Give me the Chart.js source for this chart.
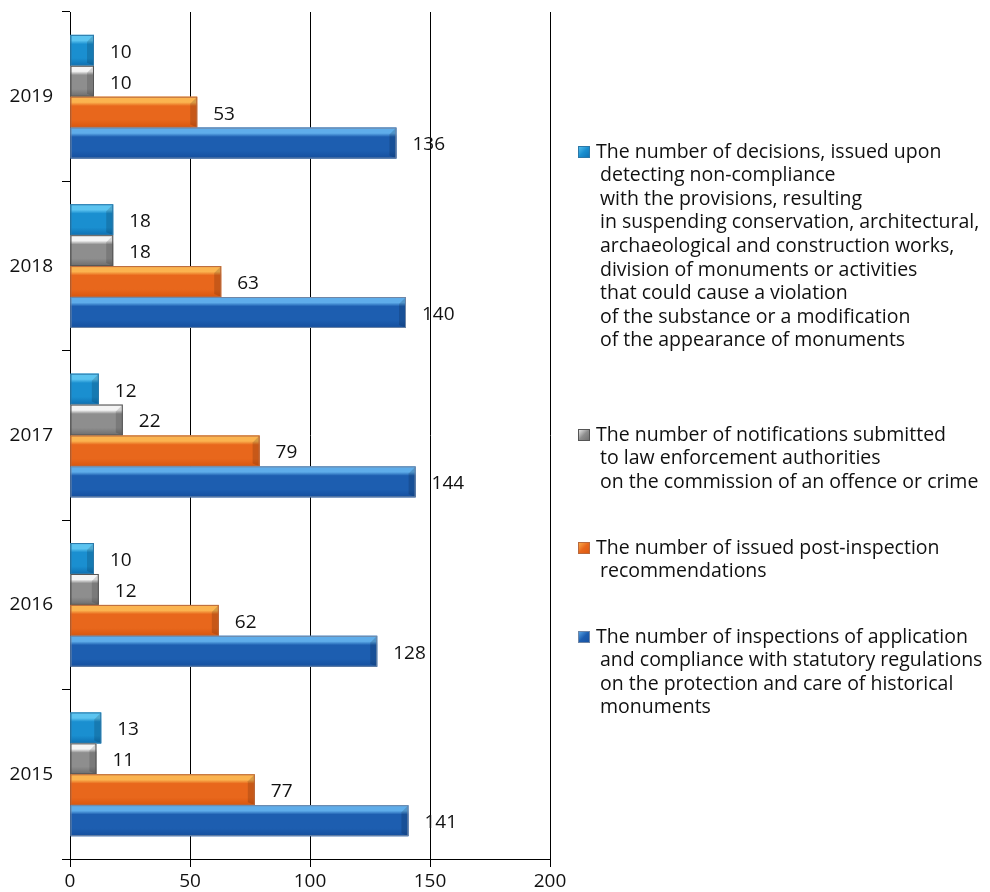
<!DOCTYPE html>
<html>
<head>
<meta charset="utf-8">
<script src="https://cdn.jsdelivr.net/npm/chart.js@4.4.0/dist/chart.umd.min.js"></script>
<style>
  html, body { margin: 0; padding: 0; background: #fff; }
  #wrap { width: 990px; height: 892px; position: relative; }
</style>
</head>
<body>
<div id="wrap"><canvas id="myChart" width="990" height="892"></canvas></div>
<script>
const years = ['2019', '2018', '2017', '2016', '2015'];
const decisions = [10, 18, 12, 10, 13];
const notifications = [10, 18, 22, 12, 11];
const recommendations = [53, 63, 79, 62, 77];
const inspections = [136, 140, 144, 128, 141];
const xTicks = [0, 50, 100, 150, 200];

const legendLines = [
    ['The number of decisions, issued upon', 'detecting non-compliance', 'with the provisions, resulting',
     'in suspending conservation, architectural,', 'archaeological and construction works,',
     'division of monuments or activities', 'that could cause a violation',
     'of the substance or a modification', 'of the appearance of monuments'],
    ['The number of notifications submitted', 'to law enforcement authorities',
     'on the commission of an offence or crime'],
    ['The number of issued post-inspection', 'recommendations'],
    ['The number of inspections of application', 'and compliance with statutory regulations',
     'on the protection and care of historical', 'monuments']
];
const legendTop = [152, 435, 548, 637];

// base, highlight, shadow, border
const palette = [
    ['#1a8fd0', '#5cc4f0', '#0d6fb2', '#2c78a8'],
    ['#8e8e8e', '#f4f4f4', '#6c6c6c', '#555555'],
    ['#e8671c', '#fbb450', '#d9560e', '#b8693e'],
    ['#1d5eb0', '#5fadea', '#154f9e', '#6f86a6']
];

const FONT = '"Open Sans", sans-serif';

// bevel look: light top band, darker bottom and a slanted right cap
const bevelBars = {
    id: 'bevelBars',
    afterDatasetsDraw(chart) {
        const ctx = chart.ctx;
        chart.data.datasets.forEach((ds, i) => {
            const meta = chart.getDatasetMeta(i);
            const c = palette[i];
            meta.data.forEach(bar => {
                const top = bar.y - bar.height / 2;
                const h = bar.height;
                const left = bar.base;
                const w = bar.x - bar.base;
                const g = ctx.createLinearGradient(0, top, 0, top + h);
                g.addColorStop(0, c[1]);
                g.addColorStop(0.18, c[1]);
                g.addColorStop(0.3, c[0]);
                g.addColorStop(0.75, c[0]);
                g.addColorStop(1, c[2]);
                ctx.save();
                ctx.fillStyle = g;
                ctx.fillRect(left, top, w, h);
                const cap = Math.min(7, w / 3);
                ctx.fillStyle = 'rgba(0,0,0,0.14)';
                ctx.beginPath();
                ctx.moveTo(bar.x, top);
                ctx.lineTo(bar.x - cap, top + cap);
                ctx.lineTo(bar.x - cap, top + h - 3);
                ctx.lineTo(bar.x, top + h);
                ctx.closePath();
                ctx.fill();
                ctx.strokeStyle = c[3];
                ctx.lineWidth = 1;
                ctx.strokeRect(left + 0.5, top + 0.5, w - 1, h - 1);
                ctx.restore();
            });
        });
    }
};

const valueLabels = {
    id: 'valueLabels',
    afterDraw(chart) {
        const ctx = chart.ctx;
        ctx.save();
        ctx.font = '19px ' + FONT;
        ctx.fillStyle = '#111';
        ctx.textAlign = 'left';
        ctx.textBaseline = 'middle';
        chart.data.datasets.forEach((ds, i) => {
            chart.getDatasetMeta(i).data.forEach((bar, j) => {
                ctx.fillText(String(ds.data[j]), bar.x + 16, bar.y + 2);
            });
        });
        ctx.restore();
    }
};

const sideLegend = {
    id: 'sideLegend',
    afterDraw(chart) {
        const ctx = chart.ctx;
        ctx.save();
        ctx.font = '19.5px ' + FONT;
        ctx.textBaseline = 'middle';
        legendLines.forEach((lines, i) => {
            const y0 = legendTop[i];
            const c = palette[i];
            const g = ctx.createLinearGradient(578, y0 - 6, 590, y0 + 6);
            g.addColorStop(0, c[1]);
            g.addColorStop(0.5, c[0]);
            g.addColorStop(1, c[2]);
            ctx.fillStyle = g;
            ctx.fillRect(578, y0 - 6, 12, 12);
            ctx.strokeStyle = c[3];
            ctx.strokeRect(578.5, y0 - 5.5, 11, 11);
            ctx.fillStyle = '#111';
            lines.forEach((t, k) => {
                ctx.fillText(t, k === 0 ? 596 : 600, y0 + k * 23.6);
            });
        });
        ctx.restore();
    }
};

const ctx = document.getElementById('myChart').getContext('2d');
const series = [decisions, notifications, recommendations, inspections];
const myChart = new Chart(ctx, {
    type: 'bar',
    data: {
        labels: years,
        datasets: series.map((d, i) => ({
            data: d,
            backgroundColor: palette[i][0],
            borderWidth: 0,
            categoryPercentage: 0.73,
            barPercentage: 1.0
        }))
    },
    options: {
        indexAxis: 'y',
        responsive: false,
        animation: false,
        layout: { padding: { top: 12, right: 440, left: 0, bottom: 0 } },
        plugins: {
            legend: { display: false },
            tooltip: { enabled: false }
        },
        scales: {
            x: {
                min: 0,
                max: 200,
                afterBuildTicks(scale) {
                    scale.ticks = xTicks.map(v => ({ value: v }));
                },
                afterFit(scale) { scale.height = 33; },
                grid: {
                    color: '#000',
                    lineWidth: 1,
                    tickLength: 8,
                    drawTicks: true
                },
                border: { color: '#000', width: 1 },
                ticks: {
                    color: '#111',
                    font: { family: FONT, size: 19 },
                    padding: 3
                }
            },
            y: {
                afterFit(scale) {
                    scale.width = 70;
                    scale.paddingTop = 0;
                    scale.paddingBottom = 0;
                },
                grid: {
                    offset: true,
                    drawOnChartArea: false,
                    color: '#000',
                    tickLength: 8
                },
                border: { color: '#000', width: 1 },
                ticks: {
                    color: '#111',
                    font: { family: FONT, size: 19 },
                    padding: 9
                }
            }
        }
    },
    plugins: [bevelBars, valueLabels, sideLegend]
});
</script>
</body>
</html>
